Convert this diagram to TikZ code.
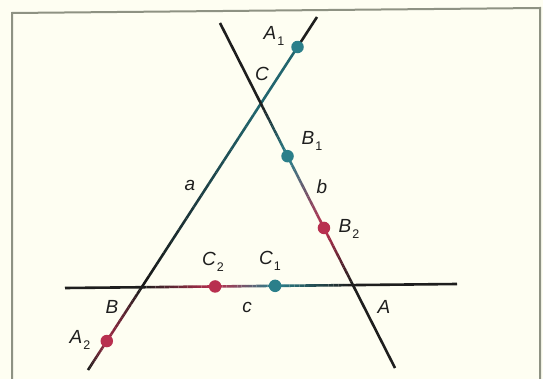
\documentclass[tikz,border=0pt]{standalone}
\usepackage{fontspec}
\setmainfont{Liberation Sans}
\usetikzlibrary{calc}
\definecolor{bg}{HTML}{FEFEF2}
\definecolor{frm}{HTML}{8E9283}
\definecolor{tl}{HTML}{2B7F8A}
\definecolor{rd}{HTML}{B8304F}
\definecolor{ink}{HTML}{1E1E1E}
\newcommand{\gradline}[4]{%
  \foreach \i [evaluate=\i as \p using int(100*\i/15)] in {0,...,15} {
    \draw[geoline,color={#4!\p!#3}] ($(#1)!\i/16!(#2)$) -- ($(#1)!\i/16+1/16!(#2)$);
  }}
\newcommand{\sbs}[1]{\rlap{\kern1pt\smash{\raisebox{-6pt}{\fontsize{12.5}{12.5}\selectfont\upshape #1}}}}
\begin{document}
\begin{tikzpicture}[x=1pt,y=-1pt,
  geoline/.style={line width=2.6pt},
  tdot/.style={circle,fill=tl,inner sep=0pt,minimum size=12.5pt},
  rdot/.style={circle,fill=rd,inner sep=0pt,minimum size=12.5pt},
  lab/.style={font=\fontsize{19}{19}\selectfont\itshape,inner sep=0pt,text=ink}]
\fill[bg] (0,0) rectangle (543,379);
\useasboundingbox (0,0) rectangle (543,379);
\draw[frm,line width=2pt] (12,381) -- (12,13) -- (540,8) -- (540,381);
% line ends
\coordinate (aT) at (317,17);
\coordinate (aB) at (88,370);
\coordinate (bT) at (220,23);
\coordinate (bB) at (395,368);
\coordinate (cL) at (65,288);
\coordinate (cR) at (457,284);
% intersections
\coordinate (C) at (intersection of aT--aB and bT--bB);
\coordinate (B) at (intersection of aT--aB and cL--cR);
\coordinate (A) at (intersection of bT--bB and cL--cR);
% points
\coordinate (pA1) at ($(aT)!0.085!(aB)$);
\coordinate (pA2) at ($(aT)!0.918!(aB)$);
\coordinate (pB1) at ($(bT)!0.386!(bB)$);
\coordinate (pB2) at ($(bT)!0.594!(bB)$);
\coordinate (pC1) at ($(cL)!0.536!(cR)$);
\coordinate (pC2) at ($(cL)!0.383!(cR)$);
% line a
\draw[geoline,ink] (aT) -- (pA1);
\draw[geoline,tl!80!black] (pA1) -- (C);
\gradline{C}{B}{tl!80!black}{ink}
\gradline{B}{pA2}{ink}{rd!85!black}
\gradline{pA2}{aB}{rd!85!black}{ink}
% line b
\draw[geoline,ink] (bT) -- (C);
\gradline{C}{pB1}{ink}{tl}
\gradline{pB1}{pB2}{tl}{rd}
\gradline{pB2}{A}{rd}{ink}
\draw[geoline,ink] (A) -- (bB);
% line c
\draw[geoline,ink] (cL) -- (B);
\gradline{B}{pC2}{ink}{rd}
\gradline{pC2}{pC1}{rd}{tl}
\gradline{pC1}{A}{tl}{ink}
\draw[geoline,ink] (A) -- (cR);
% dots
\node[tdot] (dA1) at (pA1) {};
\node[rdot] (dA2) at (pA2) {};
\node[tdot] (dB1) at (pB1) {};
\node[rdot] (dB2) at (pB2) {};
\node[tdot] (dC1) at (pC1) {};
\node[rdot] (dC2) at (pC2) {};
% labels
\node[lab] (lA1) at (270,33) {A\sbs{1}};
\node[lab] (lC) at (262,74) {C};
\node[lab] (lB1) at (308,138) {B\sbs{1}};
\node[lab] (lb) at (322,187) {b};
\node[lab] (lB2) at (345,226) {B\sbs{2}};
\node[lab] (la) at (190,185) {a};
\node[lab] (lC2) at (209,259) {C\sbs{2}};
\node[lab] (lC1) at (266,258) {C\sbs{1}};
\node[lab] (lc) at (247,307) {c};
\node[lab] (lB) at (112,307) {B};
\node[lab] (lA) at (384,307) {A};
\node[lab] (lA2) at (76,337) {A\sbs{2}};
\end{tikzpicture}
\end{document}
